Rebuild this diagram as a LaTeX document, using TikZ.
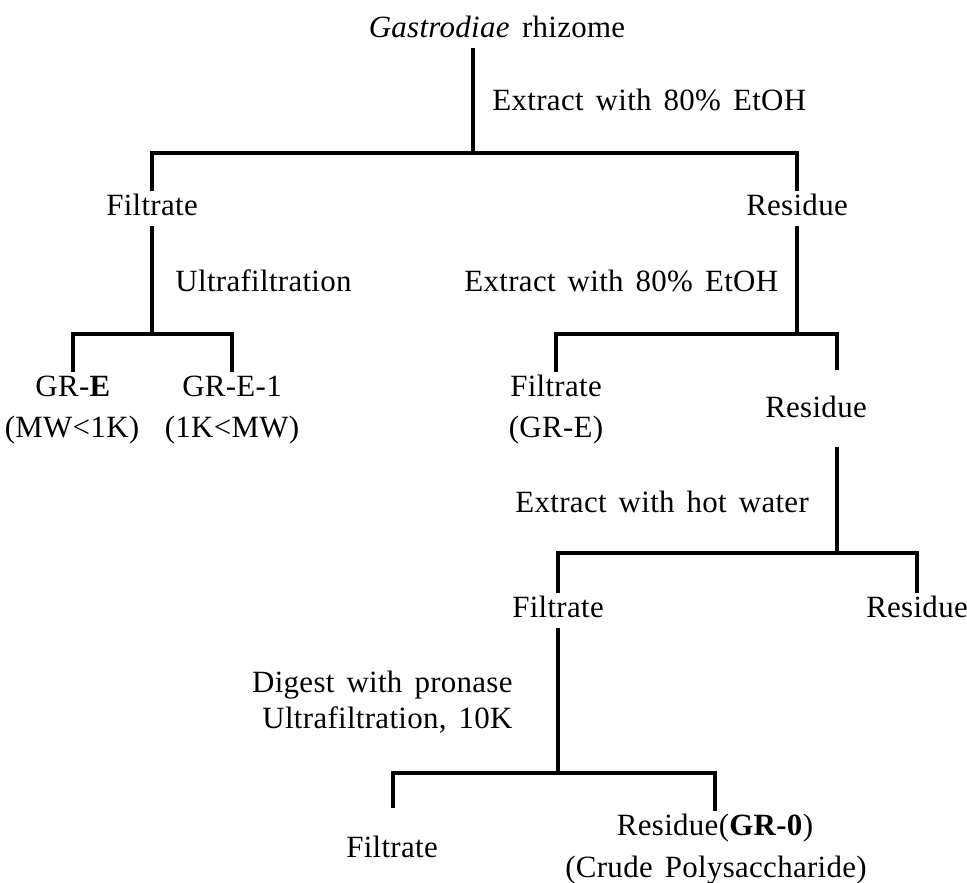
\documentclass[tikz,border=0pt]{standalone}
\usepackage{fontspec}
\setmainfont{Liberation Serif}[WordSpace=1.5,LetterSpace=1]
\usetikzlibrary{positioning}
\tikzset{
  branch/.style={line width=1.4pt},
  lbl/.style={anchor=base,inner sep=0.1cm,text height=0.7em,text depth=0.15em,font=\fontsize{13.2}{16}\selectfont},
  steptxt/.style={anchor=base west,inner sep=0pt,font=\fontsize{13.2}{16}\selectfont}
}

\begin{document}
\begin{tikzpicture}[x=0.015cm,y=-0.015cm]
\useasboundingbox (0,0) rectangle (967,882);
\node[lbl] (root) at (497,37) {\textit{Gastrodiae} rhizome};
\node[lbl] (fil1) at (152,215) {Filtrate};
\node[lbl] (res1) at (797,215) {Residue};
\node[lbl] (grE) at (73,396) {GR-\textbf{E}};
\node[lbl] (grE1) at (232,396) {GR-E-1};
\node[lbl] (mwA) at (72,437) {(MW<1K)};
\node[lbl] (mwB) at (232,437) {(1K<MW)};
\node[lbl] (fil2) at (556,396) {Filtrate};
\node[lbl] (grEb) at (556,437) {(GR-E)};
\node[lbl] (res2) at (816,417) {Residue};
\node[lbl] (fil3) at (558,617) {Filtrate};
\node[lbl] (res3) at (917,617) {Residue};
\node[lbl] (fil4) at (392,857) {Filtrate};
\node[lbl] (res4) at (715,835) {Residue(\textbf{GR-0})};
\node[lbl] (crude) at (716,877) {(Crude Polysaccharide)};

\node[steptxt] (s1) at (492,110) {Extract with 80\% EtOH};
\node[steptxt] (s2) at (175,291) {Ultrafiltration};
\node[steptxt] (s3) at (464,291) {Extract with 80\% EtOH};
\node[steptxt] (s4) at (515,512) {Extract with hot water};
\node[steptxt,anchor=base east] (s5) at (513,692) {Digest with pronase};
\node[steptxt,anchor=base east] (s6) at (513,728) {Ultrafiltration, 10K};

\coordinate (j1) at (473,153);
\coordinate (j2L) at (152,334);
\coordinate (j2R) at (797,334);
\coordinate (c2) at (837,370);
\coordinate (c3) at (837,447);
\coordinate (j3) at (837,553);
\coordinate (j4) at (558,773);
\coordinate (c4) at (393,808);

\draw[branch] (root.south -| j1) -- (j1);
\draw[branch] (fil1.north) |- (j1) -| (res1.north);
\draw[branch] (fil1.south) -- (j2L);
\draw[branch] (grE.north) |- (j2L) -| (grE1.north);
\draw[branch] (res1.south) -- (j2R);
\draw[branch] (fil2.north) |- (j2R) -| (c2);
\draw[branch] (c3) -- (j3);
\draw[branch] (fil3.north) |- (j3) -| (res3.north);
\draw[branch] (fil3.south) -- (j4);
\draw[branch] (c4) |- (j4) -| (res4.north);
\end{tikzpicture}
\end{document}
